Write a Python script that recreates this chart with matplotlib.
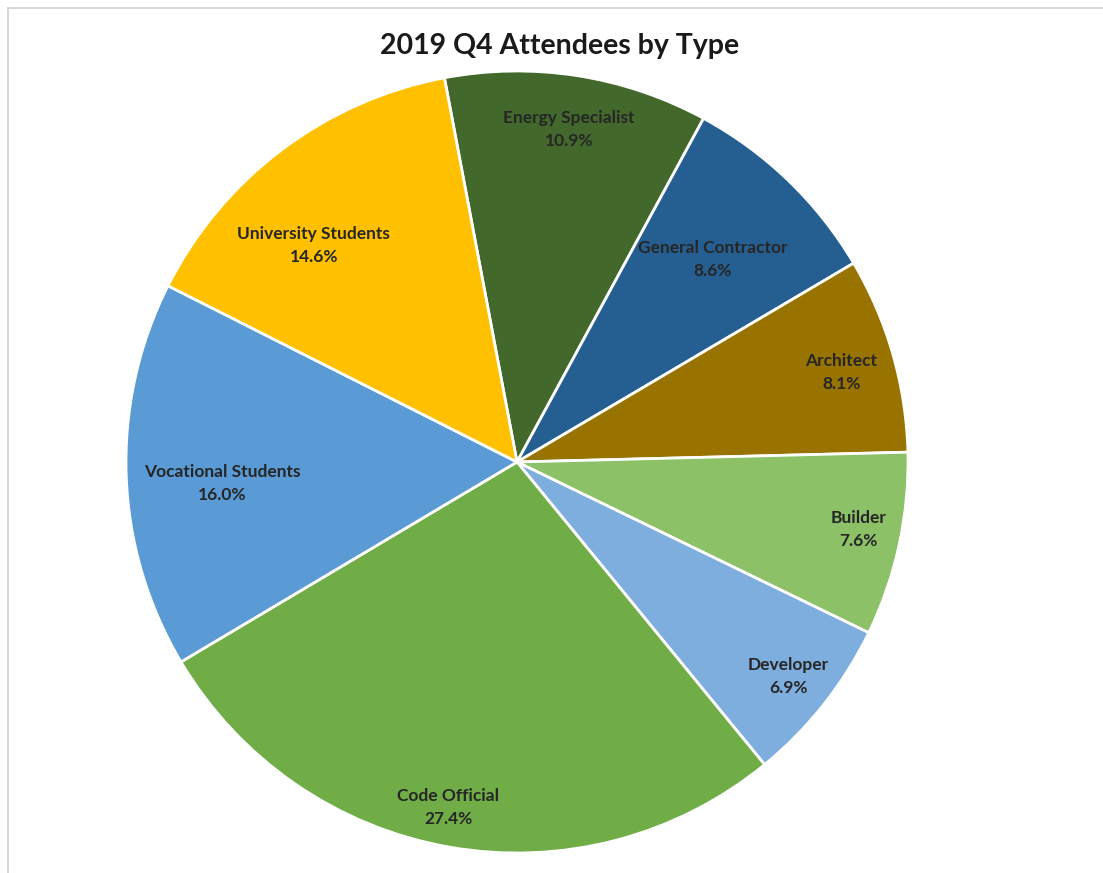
import numpy as np
import matplotlib.pyplot as plt
from matplotlib.lines import Line2D

# ------------------------------------------------------------
# DATA
# ------------------------------------------------------------
labels = ["Energy Specialist", "General Contractor", "Architect", "Builder",
          "Developer", "Code Official", "Vocational Students",
          "University Students"]
shares = [10.9, 8.6, 8.1, 7.6, 6.9, 27.4, 16.0, 14.6]
colors = ["#43682B", "#255E91", "#997300", "#8CC168",
          "#7EAEDE", "#70AD47", "#5B9BD5", "#FFC000"]

# label placement: radial fraction and angle nudge (deg) per slice
label_r = [0.86, 0.72, 0.86, 0.89, 0.885, 0.90, 0.755, 0.76]
label_dang = [0, 0, -0.6, 1.0, 0, -1.3, 2.2, 6.2]

plt.rcParams['font.family'] = ['Lato', 'DejaVu Sans']

W, H = 1103, 873
fig = plt.figure(figsize=(W / 100, H / 100), dpi=100)
fig.patch.set_facecolor("white")

# pie centre / radius in pixels
cx, cy, R = 517, 462, 391
ax = fig.add_axes([(cx - R) / W, 1 - (cy + R) / H, 2 * R / W, 2 * R / H])

wedges, _ = ax.pie(
    shares,
    colors=colors,
    startangle=100.7,
    counterclock=False,
    radius=1.0,
    wedgeprops=dict(edgecolor="white", linewidth=2)
)
ax.set_xlim(-1, 1)
ax.set_ylim(-1, 1)
ax.set_aspect("equal")
ax.axis("off")

for w, lab, val, r, da in zip(wedges, labels, shares, label_r, label_dang):
    mid = np.deg2rad((w.theta1 + w.theta2) / 2 + da)
    ax.text(r * np.cos(mid), r * np.sin(mid), f"{lab}\n{val:.1f}%",
            ha="center", va="center", fontsize=12.5, fontweight="bold",
            color="#262626", linespacing=1.55)

fig.text(560 / W, 1 - 46 / H, "2019 Q4 Attendees by Type",
         ha="center", va="center", fontsize=20.5, fontweight="bold",
         color="#1a1a1a")

# thin frame lines (top and left)
fig.add_artist(Line2D([8 / W, 1], [1 - 8 / H, 1 - 8 / H], color="#d0d0d0", lw=1.2))
fig.add_artist(Line2D([8 / W, 8 / W], [0, 1 - 8 / H], color="#d0d0d0", lw=1.2))

fig.savefig("out.png", dpi=100)
